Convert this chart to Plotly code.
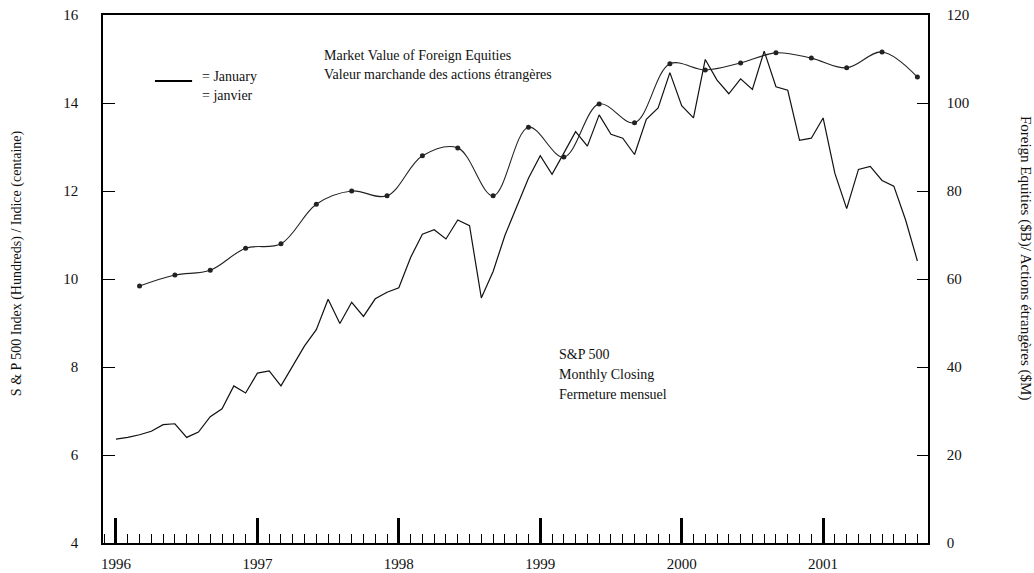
import numpy as np
import plotly.graph_objects as go

# ---------------- data ----------------
year_labels = ["1996", "1997", "1998", "1999", "2000", "2001"]

# S&P 500 monthly closing (hundreds), Jan 1996 .. Sep 2001
sp500 = [
    6.36, 6.40, 6.46, 6.54, 6.69, 6.71, 6.40, 6.52, 6.87, 7.05, 7.57, 7.41,
    7.86, 7.91, 7.57, 8.01, 8.48, 8.85, 9.54, 8.99, 9.47, 9.15, 9.55, 9.70,
    9.80, 10.49, 11.02, 11.12, 10.91, 11.34, 11.21, 9.57, 10.17, 10.99, 11.64, 12.29,
    12.80, 12.38, 12.86, 13.35, 13.02, 13.73, 13.29, 13.20, 12.83, 13.63, 13.89, 14.69,
    13.94, 13.66, 14.99, 14.52, 14.21, 14.55, 14.31, 15.18, 14.37, 14.29, 13.15, 13.20,
    13.66, 12.40, 11.60, 12.49, 12.56, 12.24, 12.11, 11.34, 10.41,
]

# Market value of foreign equities ($B), quarterly (Mar, Jun, Sep, Dec), Q1 1996 .. Q3 2001
foreign_eq = [
    58.4, 60.9, 62.0, 67.0,
    68.0, 77.0, 80.0, 78.9,
    88.0, 89.8, 78.9, 94.5,
    87.7, 99.8, 95.5, 108.9,
    107.5, 109.1, 111.4, 110.2,
    108.0, 111.6, 105.9,
]

sp_x = np.arange(len(sp500))                 # month index, 0 = Jan 1996
fe_x = 2 + 3 * np.arange(len(foreign_eq))    # quarter-end month index
year_ticks = 12 * np.arange(len(year_labels))

FONT = "Liberation Serif, Times New Roman, serif"
INK = "#111111"

fig = go.Figure()

fig.add_trace(go.Scatter(
    x=sp_x, y=sp500, mode="lines",
    line=dict(color=INK, width=1.2),
    yaxis="y", showlegend=False, hoverinfo="skip",
))

fig.add_trace(go.Scatter(
    x=fe_x, y=foreign_eq, mode="lines+markers",
    line=dict(color="#222222", width=1.1, shape="spline", smoothing=1.0),
    marker=dict(color="#222222", size=5),
    yaxis="y2", showlegend=False, hoverinfo="skip",
))

fig.update_layout(
    width=1034, height=573,
    margin=dict(l=103, r=106, t=15, b=30, autoexpand=False),
    paper_bgcolor="white", plot_bgcolor="white",
    font=dict(family=FONT, color=INK, size=14),
    xaxis=dict(
        range=[-1.1, 68.9], automargin=False,
        tickmode="array", tickvals=year_ticks, ticktext=year_labels,
        ticks="inside", ticklen=25, tickwidth=2.5, tickcolor="black",
        showline=True, linecolor="black", linewidth=1.5, mirror=True,
        showgrid=False, zeroline=False,
        tickfont=dict(family=FONT, size=15, color=INK),
        ticklabelstandoff=6,
        minor=dict(ticks="inside", ticklen=9, tickwidth=1, tickcolor="black",
                   tickmode="linear", tick0=0, dtick=1, showgrid=False),
    ),
    yaxis=dict(
        range=[4, 16], tickmode="linear", tick0=4, dtick=2, automargin=False,
        ticks="inside", ticklen=12, tickwidth=1, tickcolor="black",
        showline=True, linecolor="black", linewidth=1.5, mirror=True,
        showgrid=False, zeroline=False,
        tickfont=dict(family=FONT, size=15, color=INK),
        ticklabelstandoff=20,
    ),
    yaxis2=dict(
        range=[0, 120], tickmode="linear", tick0=0, dtick=20, automargin=False,
        overlaying="y", side="right",
        ticks="inside", ticklen=11, tickwidth=1, tickcolor="black",
        showline=True, linecolor="black", linewidth=1.5,
        showgrid=False, zeroline=False,
        tickfont=dict(family=FONT, size=15, color=INK),
        ticklabelstandoff=14,
    ),
)

def note(text, x, y, **kw):
    fig.add_annotation(text=text, x=x, y=y, xref="paper", yref="paper",
                       showarrow=False, xanchor=kw.pop("xanchor", "left"),
                       yanchor=kw.pop("yanchor", "middle"),
                       font=dict(family=FONT, size=kw.pop("size", 14), color=INK), **kw)

note("Market Value of Foreign Equities", 0.2655, 0.924)
note("Valeur marchande des actions étrangères", 0.2655, 0.887)
note("= January", 0.1176, 0.883)
note("= janvier", 0.1176, 0.848)
note("S&amp;P 500", 0.550, 0.357)
note("Monthly Closing", 0.550, 0.319)
note("Fermeture mensuel", 0.550, 0.281)

# axis titles
note("S &amp; P 500 Index (Hundreds) / Indice (centaine)", (17 - 103) / 825, 0.53,
     xanchor="center", textangle=-90, size=14)
note("Foreign Equities ($B)/ Actions étrangères ($M)", (1025 - 103) / 825, 0.54,
     xanchor="center", textangle=90, size=15)

# legend sample for the January marker
fig.add_shape(type="line", xref="paper", yref="paper",
              x0=0.063, x1=0.108, y0=0.875, y1=0.875,
              line=dict(color="black", width=2))

fig.write_html("out.html", config={"displayModeBar": False},
               post_script="document.body.style.margin='0';")
